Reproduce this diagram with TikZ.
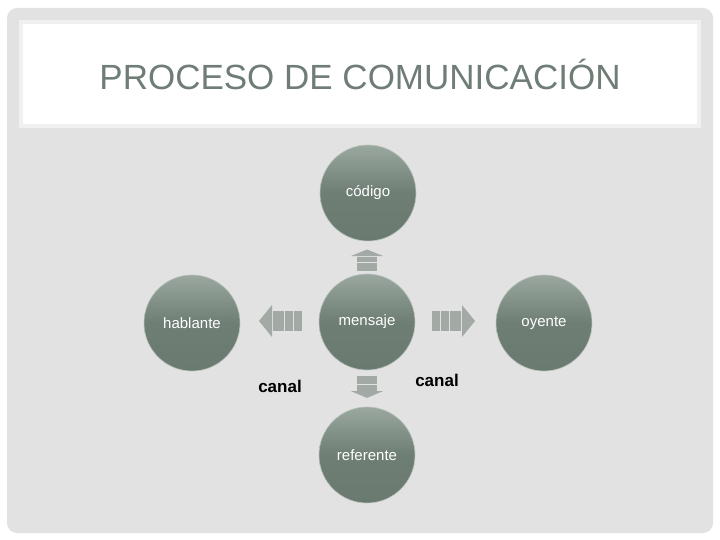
\documentclass[tikz,border=0pt]{standalone}
\usepackage{fontspec}
\setmainfont{Liberation Sans}
\definecolor{bgC}{HTML}{E2E2E2}
\definecolor{titleC}{HTML}{6F7D76}
\definecolor{cTop}{HTML}{9AA89F}
\definecolor{cMid}{HTML}{6E7E74}
\definecolor{cBot}{HTML}{6A7A70}
\definecolor{cRim}{HTML}{B8C2BC}
\definecolor{arrC}{HTML}{A3AAA6}
\begin{document}
\begin{tikzpicture}[x=1pt,y=-1pt,
  circ/.style={circle, minimum size=96pt, inner sep=0pt, top color=cTop, bottom color=cBot, middle color=cMid, draw=cRim, line width=0.6pt, text=white, font=\fontsize{15}{17}\selectfont},
  lbl/.style={text=black, font=\bfseries\fontsize{17}{19}\selectfont},
  arrbody/.style={fill=arrC},
  arrhead/.style={fill=arrC}]
\useasboundingbox (0,0) rectangle (720,540);
\fill[white] (0,0) rectangle (720,540);
\fill[bgC, rounded corners=10pt] (7,8) rectangle (713,533);
\draw[fill=white, draw=white!94!black, line width=4pt] (21,22) rectangle (699,126);
\node[text=titleC, font=\fontsize{35}{40}\selectfont] (title) at (360,74) {PROCESO DE COMUNICACIÓN};

\node[circ] (codigo) at (368,193) {código};
\node[circ] (mensaje) at (367,322) {mensaje};
\node[circ] (hablante) at (192,323) {hablante};
\node[circ] (oyente) at (544,323) {oyente};
\node[circ] (referente) at (367,455) {referente};

\node[lbl] (canal1) at (280,386) {canal};
\node[lbl] (canal2) at (437,380) {canal};

% arrows
\foreach \px/\py/\ang/\sc in {454/321/0/1, 280/321/180/1, 367/260/90/0.5, 367/387/-90/0.52}{
  \begin{scope}[shift={(\px,\py)}, rotate=\ang, xscale=\sc]
    \fill[arrbody] (-22,-10) rectangle (-14,10);
    \fill[arrbody] (-13,-10) rectangle (-5,10);
    \fill[arrbody] (-4,-10) rectangle (7,10);
    \fill[arrhead] (8,-16) -- (21,0) -- (8,16) -- cycle;
  \end{scope}
}
\end{tikzpicture}
\end{document}
